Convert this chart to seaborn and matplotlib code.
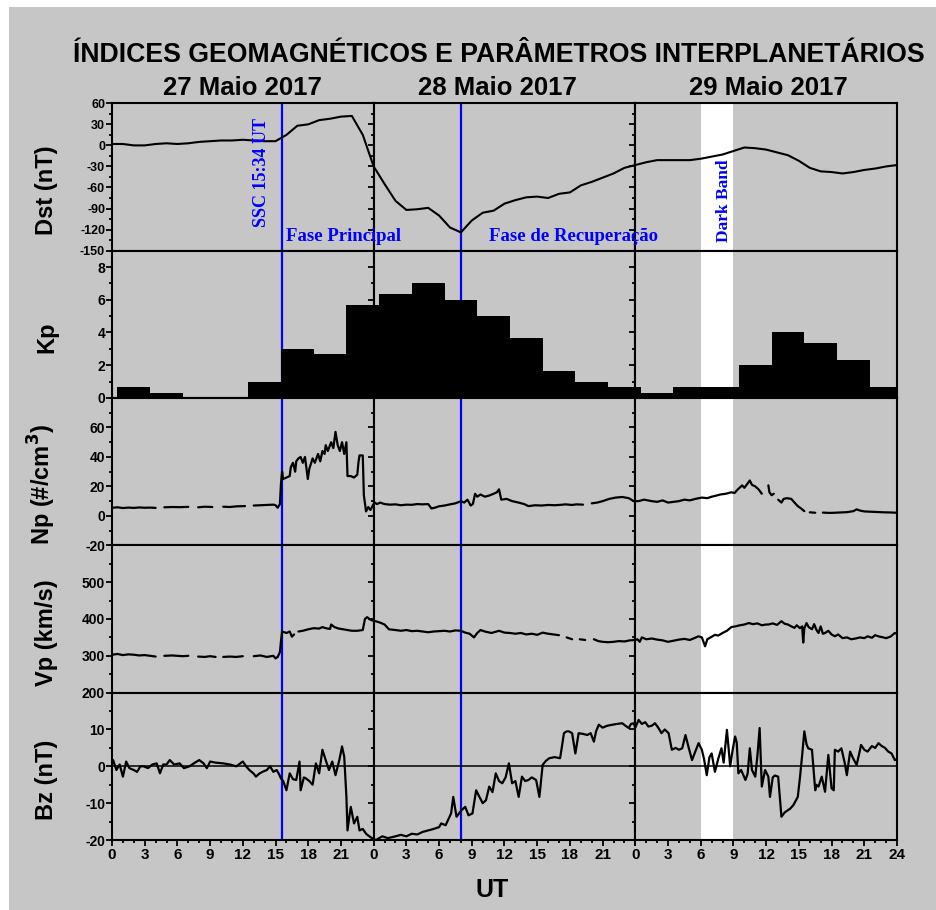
import numpy as np
import pandas as pd
import matplotlib
matplotlib.use('Agg')
import matplotlib.pyplot as plt
import seaborn as sns
from matplotlib import font_manager
from matplotlib.patches import Rectangle
from matplotlib.ticker import MultipleLocator, FixedLocator

# Dst horario (nT), 27-29 maio 2017, horas 0..72
dst_hora = list(range(73))
dst_val = [2, 2, 0, 0, 2, 3, 2, 3, 5, 6, 7, 7, 8, 7, 6, 6, 15, 28, 30, 36, 38, 41, 42, 15,
           -30, -55, -79, -92, -91, -89, -100, -117, -124, -107, -96, -93, -83, -78, -74, -73,
           -75, -69, -67, -57, -52, -46, -40, -32, -28, -24, -21, -21, -21, -21, -19, -16,
           -13, -8, -3, -4, -6, -10, -14, -22, -32, -37, -38, -40, -38, -35, -33, -30, -28]

# Kp (intervalos de 3 h)
kp_val = [0.67, 0.33, 0, 0, 1.0, 3.0, 2.67, 5.67,
          6.33, 7.0, 6.0, 5.0, 3.67, 1.67, 1.0, 0.67,
          0.33, 0.67, 0.67, 2.0, 4.0, 3.33, 2.33, 0.67]
kp_inicio = [0.5 + 3 * i for i in range(24)]

# Np (#/cm3)
dens_hora = [0.0, 0.5, 1.0, 1.5, 2.0, 2.5, 3.0, 3.5, 4.0, 4.3, 4.8, 5.5, 6.2, 7.0, 7.4, 7.9, 8.5, 9.2,
             9.8, 10.2, 10.8, 11.5, 12.2, 12.6, 13.0, 13.6, 14.2, 14.8, 15.0, 15.2, 15.4, 15.5, 15.6,
             15.7, 16.0, 16.3, 16.4, 16.6, 16.8, 16.9, 17.1, 17.3, 17.5, 17.7, 17.96, 18.1, 18.4,
             18.6, 18.9, 19.1, 19.3, 19.5, 19.6, 19.8, 20.1, 20.3, 20.5, 20.7, 20.9, 21.1, 21.3,
             21.5, 21.6, 21.9, 22.2, 22.5, 22.6, 22.7, 23.0, 23.1, 23.3, 23.5, 23.7, 24.0,
             24.1, 24.3, 24.6, 25.0, 25.5, 26.0, 26.5, 27.0, 27.5, 28.0, 28.5, 29.0, 29.3, 29.6,
             30.0, 30.5, 31.0, 31.5, 32.0, 32.3, 32.6, 32.9, 33.1, 33.3, 33.5, 33.8, 34.2, 34.6,
             35.0, 35.3, 35.5, 35.7, 36.2, 36.7, 37.3, 37.8, 38.2, 38.8, 39.4, 40.0, 40.6, 41.2,
             41.6, 42.2, 42.6, 43.2, 43.6, 44.0, 44.5, 45.0, 45.6, 46.2, 46.8, 47.4, 47.85, 48.0,
             48.3, 48.8, 49.5, 50.0, 50.5, 51.0, 51.5, 52.0, 52.5, 53.0, 53.5, 54.1, 54.6, 55.0,
             55.3, 55.8, 56.3, 56.8, 57.1, 57.4, 57.8, 58.0, 58.3, 58.5, 58.7, 59.0, 59.3, 59.6,
             59.8, 60.2, 60.3, 60.5, 60.7, 60.9, 61.1, 61.4, 61.6, 61.9, 62.3, 62.6, 62.9, 63.2,
             63.5, 63.7, 64.0, 64.5, 64.8, 65.2, 65.8, 66.3, 66.8, 67.4, 68.0, 68.3, 68.6, 69.0,
             69.6, 70.2, 70.8, 71.4, 72.0]
dens_val = [5.5, 5.8, 5.3, 5.6, 5.4, 5.7, 5.5, 5.6, 5.4, np.nan, 5.8, 6.0, 5.9, 6.1, np.nan, 5.8, 6.2, 6.0,
            np.nan, 6.2, 6.0, 6.5, 6.6, np.nan, 7.0, 7.2, 7.4, 7.6, 7.2, 5.5, 8.0, 22, 30,
            25, 26, 27, 33, 36, 30, 37, 39, 40, 36, 40, 25, 32, 39,
            36, 42, 37, 44, 42, 48, 44, 50, 46, 57, 48, 44, 50, 42,
            50, 27, 27, 26, 28, 36, 41, 41, 14, 3, 6, 4, 8,
            9, 8, 9, 8, 7.6, 7.8, 7.2, 7.6, 7.5, 8, 7.8, 8, 5, 5.5,
            6.5, 7, 7.8, 8.5, 10, 9, 11, 7, 8, 15, 13, 14.5, 13, 13.8,
            15, 16, 18, 11, 11.5, 10, 9, 8, 6.6, 7.2, 7, 7.4, 7.2, 7.5,
            7.8, 7.4, 7.8, 7.6, np.nan, 8.5, 9, 10, 11.5, 12.4, 12.8, 12, 10, 10,
            10, 11, 10, 9.5, 10.5, 9, 9.5, 10, 11, 10.5, 11.5, 12.4, 12, 13,
            13.5, 14.5, 15, 16, 15.5, 18, 20.7, 19, 22, 24, 21, 20, 18, 15,
            np.nan, 20.7, 16, 14, 15, np.nan, 11, 9, 11.5, 12, 11.5, 9, 6.6, 5,
            3.2, np.nan, 2.4, 2.1, np.nan, 2.2, 2, 2.1, 2.3, 2.5, 3.2, 4.4, 3.6, 3,
            2.8, 2.6, 2.4, 2.3, 2.1]

# Vp (km/s)
vel_hora = [0.0, 0.5, 1.0, 1.5, 2.0, 2.5, 3.0, 3.5, 4.0, 4.3, 4.8, 5.5, 6.0, 6.5, 7.0, 7.4, 7.9, 8.5,
            9.0, 9.5, 9.8, 10.2, 10.8, 11.4, 12.0, 12.6, 13.0, 13.6, 14.2, 14.8, 15.0, 15.2, 15.4,
            15.5, 15.6, 16.0, 16.3, 16.5, 16.7, 16.9, 17.1, 17.5, 18.0, 18.5, 19.0, 19.3, 19.6,
            20.0, 20.1, 20.4, 20.8, 21.2, 21.6, 22.0, 22.5, 23.0, 23.2, 23.4, 23.7, 24.0,
            24.3, 24.6, 25.0, 25.4, 26.0, 26.5, 27.0, 27.5, 28.0, 28.5, 29.0, 29.5, 30.0, 30.5,
            31.0, 31.5, 32.0, 32.4, 32.8, 33.0, 33.2, 33.5, 33.8, 34.2, 34.8, 35.5, 36.0, 36.5,
            37.0, 37.5, 38.0, 38.5, 39.0, 39.5, 40.0, 40.5, 41.0, 41.4, 41.7, 42.2, 42.4, 42.9,
            43.4, 43.9, 44.2, 44.6, 45.0, 45.5, 46.0, 46.5, 47.0, 47.5, 48.0,
            48.2, 48.4, 48.6, 49.0, 49.5, 50.0, 50.5, 51.0, 51.5, 52.0, 52.5, 53.0, 53.4, 53.8,
            54.1, 54.4, 54.6, 54.9, 55.3, 55.6, 56.0, 56.4, 56.8, 57.2, 57.6, 58.0, 58.4, 58.8,
            59.2, 59.6, 60.0, 60.2, 60.6, 61.0, 61.4, 61.7, 62.0, 62.3, 62.6, 62.8, 63.1, 63.3,
            63.4, 63.5, 63.7, 63.9, 64.2, 64.4, 64.6, 64.8, 65.0, 65.2, 65.4, 65.7, 66.0, 66.3,
            66.6, 67.0, 67.4, 67.8, 68.2, 68.6, 69.0, 69.3, 69.7, 70.0, 70.4, 70.6, 71.0, 71.4,
            71.8, 72.0]
vel_val = [303, 305, 302, 304, 303, 301, 302, 300, 298, np.nan, 300, 301, 300, 299, 300, np.nan, 298, 297,
           299, 297, np.nan, 297, 298, 297, 299, np.nan, 299, 301, 297, 300, 293, 297, 310,
           340, 366, 362, 366, 352, 358, np.nan, 366, 368, 372, 375, 374, 378, 375,
           373, 385, 378, 374, 372, 370, 368, 368, 370, 400, 405, 398, 395,
           393, 390, 385, 372, 370, 368, 370, 367, 368, 366, 364, 366, 367, 368,
           366, 369, 368, 363, 360, 355, 350, 362, 370, 366, 362, 368, 363, 362,
           360, 362, 358, 360, 357, 363, 360, 358, 356, np.nan, 350, 345, np.nan, 345,
           343, np.nan, 345, 340, 338, 337, 338, 340, 339, 342, 343,
           345, 338, 350, 345, 347, 344, 342, 338, 341, 344, 346, 343, 348, 353,
           350, 326, 345, 350, 357, 355, 362, 368, 378, 380, 383, 385, 389, 386,
           388, 383, 385, 385, 388, 384, 394, 387, 385, 380, 376, 383, 375, 380,
           336, 375, 389, 378, 372, 386, 371, 362, 380, 360, 362, 368, 358, 353,
           358, 348, 350, 345, 347, 350, 348, 353, 349, 356, 352, 351, 348, 352,
           362, 360]

# Bz (nT)
bz_hora = [0.0, 0.1, 0.4, 0.7, 1.0, 1.3, 1.6, 2.0, 2.3, 2.6, 2.9, 3.3, 3.7, 4.1, 4.4, 4.7, 5.0, 5.3,
           5.7, 6.2, 6.6, 7.1, 7.5, 8.0, 8.4, 8.7, 9.0, 9.5, 10.2, 10.8, 11.4, 12.0, 12.3, 12.6,
           13.0, 13.2, 13.5, 13.8, 14.2, 14.5, 14.8, 15.1, 15.3, 15.5, 15.7, 16.0, 16.3, 16.6,
           16.9, 17.2, 17.3, 17.6, 17.8, 18.1, 18.4, 18.7, 19.0, 19.3, 19.6, 19.9, 20.2, 20.5,
           20.85, 21.1, 21.3, 21.5, 21.6, 21.8, 21.9, 22.2, 22.5, 22.7, 23.0, 23.3, 23.6, 23.9,
           24.2, 24.8, 25.3, 26.0, 26.5, 27.0, 27.5, 28.0, 28.5, 29.0, 29.5, 30.0, 30.2, 30.6,
           31.1, 31.3, 31.6, 32.06, 32.4, 32.7, 33.06, 33.4, 33.7, 34.0, 34.3, 34.6, 34.9, 35.2,
           35.5, 35.8, 36.1, 36.4, 36.7, 37.0, 37.3, 37.6, 37.9, 38.2, 38.5, 38.9, 39.2, 39.5,
           39.8, 40.1, 40.6, 41.1, 41.3, 41.45, 41.7, 41.9, 42.2, 42.5, 42.8, 43.2, 43.6, 43.9,
           44.2, 44.4, 44.65, 45.0, 45.4, 45.9, 46.3, 46.8, 47.1, 47.4, 47.6, 47.85, 48.0,
           48.3, 48.6, 48.9, 49.2, 49.5, 49.8, 50.1, 50.4, 50.7, 51.05, 51.35, 51.7, 52.0, 52.3,
           52.6, 52.9, 53.2, 53.5, 53.8, 54.1, 54.3, 54.55, 54.8, 55.0, 55.3, 55.6, 55.9, 56.1,
           56.4, 56.55, 56.7, 56.9, 57.15, 57.3, 57.45, 57.7, 58.1, 58.3, 58.5, 58.7, 59.0, 59.2,
           59.4, 59.6, 59.9, 60.2, 60.35, 60.6, 60.8, 61.1, 61.4, 61.7, 62.2, 62.5, 62.9, 63.1,
           63.3, 63.5, 63.7, 63.85, 64.2, 64.5, 64.6, 64.8, 65.1, 65.4, 65.7, 66.0, 66.2, 66.3,
           66.6, 66.9, 67.2, 67.4, 67.7, 68.0, 68.3, 68.5, 68.7, 69.0, 69.3, 69.7, 70.0, 70.3,
           70.6, 70.9, 71.2, 71.5, 71.8, 72.0]
bz_val = [1.0, 1.7, -1, 0.5, -2.8, 1.3, -0.5, -1, -1.5, 0, 0, -0.5, 0.5, 0.8, -1.9, 0.5, 0.5, 1.7,
          0.5, 0.8, -0.5, 0, 0.8, 1.7, 0.8, -0.5, 1.3, 1, 0.8, 0.5, 0, 1.3, 0, -1,
          -2, -2.8, -2, -1.5, -1, 0, -1.5, -1, -2, -3.3, -4, -6.5, -1.9, -3.5,
          -3.7, 1.3, -6.5, -3, -3.3, -4, -5, 0.8, -1.9, 4.5, 1.7, -1, 1.3, -2.4,
          1.7, 5.4, 2.6, -8.3, -17.4, -13, -11, -15.5, -13.7, -17.4, -17, -18.3, -19, -19.6,
          -20, -19, -19.5, -19, -18.6, -19, -18.3, -18.5, -17.8, -17.4, -17, -16.5, -15.5, -16,
          -12.8, -8.3, -13.7, -11.9, -11, -13.3, -12.8, -6.5, -8.3, -10, -9.2, -5.5, -7, -1.9,
          -4, -4.6, -3, 0.8, -4.6, -4, -8.3, -2.8, -4, -3.7, -3, -3.7, -8.3, 0.4,
          1.5, 2.2, 2.5, 2.2, 6, 9, 9.5, 9.5, 9, 3.5, 9, 8.8, 8.5, 9,
          6.7, 9.5, 11.3, 10.5, 11, 11.3, 11.5, 11.7, 11, 10.4, 11.5, 11.7, 10.5,
          12.6, 11.5, 12, 10.8, 11, 11.7, 10.5, 9, 10, 9, 4.5, 5, 4.5, 4.9,
          8.5, 5, 1.7, 4, 6.3, 4.5, 2, -2.4, 2.5, 3.5, -1.5, 2, 4.9, 1,
          9.9, 5, 0, 4, 8.1, 6.5, -1.9, -1, -3.7, -2, 4.9, -1, -2.8, 3,
          10.4, -5.5, -1, -2.8, -8.3, -3, -2.5, -2.8, -13.7, -12.5, -11.5, -10.5, -8.3, -3,
          3, 9.5, 6, 4.9, 4.5, -6.5, -5, -5.5, -2.8, -6.9, 3.1, -6, -6.5, 4.5,
          4, 4.9, 1, -2.4, 4.0, 2, 0.4, 3, 5.8, 4.5, 4.0, 5.5, 5, 6.3,
          5.5, 5, 4.0, 3.5, 1.7, 2]

dias = ['27 Maio 2017', '28 Maio 2017', '29 Maio 2017']
rotulos_y = ['Dst (nT)', 'Kp', 'Np (#/cm$^3$)', 'Vp (km/s)', 'Bz (nT)']
limites_y = [(-150, 60), (0, 9), (-20, 80), (200, 600), (-20, 20)]
ticks_y = [list(range(-150, 61, 30)), [0, 2, 4, 6, 8], [-20, 0, 20, 40, 60],
           [200, 300, 400, 500], [-20, -10, 0, 10]]
minor_y = [15, 1, 10, 50, 5]

cinza = '#c6c6c6'
azul = '#0000ff'
ssc = 15 + 34 / 60

sns.set_style('ticks')
nomes = {f.name for f in font_manager.fontManager.ttflist}
estreita = 'Liberation Sans Narrow' if 'Liberation Sans Narrow' in nomes else 'Liberation Sans'
plt.rcParams['font.family'] = ['Liberation Sans', 'DejaVu Sans']
plt.rcParams['font.weight'] = 'bold'
plt.rcParams['axes.linewidth'] = 1.5
plt.rcParams['axes.unicode_minus'] = False
plt.rcParams['text.color'] = 'black'
plt.rcParams['axes.labelcolor'] = 'black'


def tabela(hora, valor):
    df = pd.DataFrame({'hora': hora, 'valor': valor})
    df['segmento'] = df['valor'].isna().cumsum()
    return df.dropna()


dst = pd.DataFrame({'hora': dst_hora, 'valor': dst_val})
series = {2: tabela(dens_hora, dens_val), 3: tabela(vel_hora, vel_val), 4: tabela(bz_hora, bz_val)}

fig = plt.figure(figsize=(9.37, 9.10), dpi=100, facecolor='white')
fig.patches.append(Rectangle((9 / 937, 0), 1, 1 - 7 / 910, transform=fig.transFigure,
                             facecolor=cinza, edgecolor='none', zorder=-10))
axes = fig.subplots(5, 3, gridspec_kw=dict(left=112 / 937, right=897 / 937, top=1 - 103.3 / 910,
                                           bottom=1 - 840 / 910, wspace=0, hspace=0))

for lin in range(5):
    for col in range(3):
        ax = axes[lin, col]
        ax.set_facecolor(cinza)
        t0 = 24 * col
        if col == 2:
            ax.axvspan(6, 9, color='white', lw=0, zorder=0.5)
        if col == 0:
            ax.axvline(ssc, color=azul, lw=1.6, zorder=1.5)
        if col == 1:
            ax.axvline(8, color=azul, lw=1.6, zorder=1.5)

        if lin == 0:
            sub = dst[(dst['hora'] >= t0 - 1) & (dst['hora'] <= t0 + 25)].copy()
            sub['hora'] -= t0
            sns.lineplot(data=sub, x='hora', y='valor', ax=ax, color='black', lw=1.5,
                         estimator=None, legend=False, zorder=3)
        elif lin == 1:
            xs = [k - t0 for k in kp_inicio]
            ax.bar(xs, kp_val, width=3, align='edge', color='black', lw=0, zorder=2)
        else:
            df = series[lin]
            sub = df[(df['hora'] >= t0 - 1) & (df['hora'] <= t0 + 25)].copy()
            sub['hora'] -= t0
            sns.lineplot(data=sub, x='hora', y='valor', units='segmento', ax=ax, color='black',
                         lw=1.6, estimator=None, legend=False, zorder=3)
            if lin == 4:
                ax.axhline(0, color='black', lw=1.1, zorder=2.5)

        ax.set_xlim(0, 24)
        ax.set_ylim(*limites_y[lin])
        ax.xaxis.set_major_locator(FixedLocator(list(range(0, 25, 3))))
        ax.xaxis.set_minor_locator(MultipleLocator(1))
        ax.yaxis.set_major_locator(FixedLocator(ticks_y[lin]))
        ax.yaxis.set_minor_locator(MultipleLocator(minor_y[lin]))
        ax.tick_params(which='both', direction='out', width=1.3, colors='black')
        ax.tick_params(which='major', length=4)
        ax.tick_params(which='minor', length=2.5)
        ax.tick_params(axis='x', labelsize=11, pad=2)
        ax.tick_params(axis='y', labelsize=9 if lin == 0 else 10, pad=1)
        for s in ax.spines.values():
            s.set_visible(True)
            s.set_color('black')
        ax.set_xlabel('')
        ax.set_ylabel('')
        if lin < 4:
            ax.tick_params(axis='x', labelbottom=False)
        else:
            labels = [str(v) for v in range(0, 25, 3)]
            if col < 2:
                labels[-1] = ''
            ax.set_xticklabels(labels)
        if col > 0:
            ax.tick_params(axis='y', labelleft=False)
        else:
            ax.set_ylabel(rotulos_y[lin], fontsize=17, fontweight='bold')
            ax.yaxis.set_label_coords(-0.206, 0.41)

# anotacoes (como textos da figura para nao serem cobertas pelo painel vizinho)
serif = dict(family=['Liberation Serif', 'DejaVu Serif'], fontweight='bold', color=azul)
axes[0, 0].text(13.7, -116.5, 'SSC 15:34 UT', rotation=90, ha='center', va='bottom', fontsize=13, **serif)
fig.text(16.0, -136, 'Fase Principal', transform=axes[0, 0].transData,
         ha='left', va='baseline', fontsize=13.5, **serif)
fig.text(10.6, -136, 'Fase de Recuperação', transform=axes[0, 1].transData,
         ha='left', va='baseline', fontsize=13.5, **serif)
axes[0, 2].text(8.1, -137.7, 'Dark Band', rotation=90, ha='center', va='bottom', fontsize=12.5, **serif)

fig.text(498.5 / 937, 1 - 62 / 910, 'ÍNDICES GEOMAGNÉTICOS E PARÂMETROS INTERPLANETÁRIOS',
         ha='center', va='baseline', fontsize=19.2, fontweight='bold', family=[estreita, 'DejaVu Sans'])
for x, d in zip([242.5, 497, 768], dias):
    fig.text(x / 937, 1 - 95 / 910, d, ha='center', va='baseline', fontsize=18.5,
             fontweight='bold', family=[estreita, 'DejaVu Sans'])
fig.text(492 / 937, 1 - 897 / 910, 'UT', ha='center', va='baseline', fontsize=18, fontweight='bold')

fig.savefig('out.png', dpi=100, facecolor='white')
